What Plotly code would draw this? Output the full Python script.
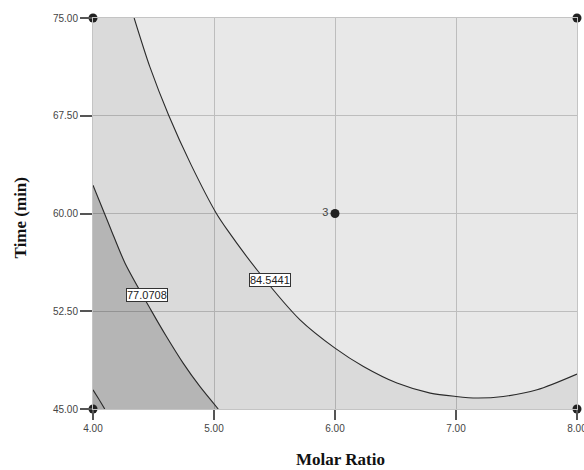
import plotly.graph_objects as go

# ---- data ----
x_range = [4.0, 8.0]
y_range = [45.0, 75.0]
x_tick_vals = [4.0, 5.0, 6.0, 7.0, 8.0]
x_tick_text = ["4.00", "5.00", "6.00", "7.00", "8.00"]
y_tick_vals = [45.0, 52.5, 60.0, 67.5, 75.0]
y_tick_text = ["45.00", "52.50", "60.00", "67.50", "75.00"]

# contour level 84.5441
c84_x = [4.34, 4.47, 4.627, 4.81, 5.02, 5.11, 5.366, 5.711, 6.0, 6.235, 6.512, 6.787, 7.0, 7.17, 7.39, 7.67, 8.0]
c84_y = [75.0, 71.25, 67.5, 63.75, 60.0, 58.74, 55.55, 51.84, 49.67, 48.26, 46.99, 46.22, 45.96, 45.84, 45.96, 46.47, 47.68]
# contour level 77.0708
c77_x = [4.0, 4.095, 4.15, 4.265, 4.483, 4.607, 4.745, 4.883, 5.035]
c77_y = [62.17, 60.0, 58.74, 56.19, 52.53, 50.56, 48.52, 46.73, 45.0]
# lowest contour (unlabelled)
c69_x = [4.0, 4.045, 4.097]
c69_y = [46.47, 45.8, 45.0]

contour_labels = ["84.5441", "77.0708"]
label_x = [5.463, 4.446]
label_y = [54.91, 53.78]

design_x = [4.0, 4.0, 8.0, 8.0, 6.0]
design_y = [45.0, 75.0, 45.0, 75.0, 60.0]
design_text = ["", "", "", "", "3"]

fig = go.Figure()

# filled regions (nested, semi-transparent so gridlines remain visible)
fig.add_trace(go.Scatter(
    x=c84_x + [x_range[1], x_range[0], x_range[0]],
    y=c84_y + [y_range[0], y_range[0], y_range[1]],
    fill="toself", fillcolor="rgba(0,0,0,0.06)", mode="lines",
    line=dict(width=0), hoverinfo="skip", showlegend=False))
fig.add_trace(go.Scatter(
    x=c77_x + [x_range[0]],
    y=c77_y + [y_range[0]],
    fill="toself", fillcolor="rgba(0,0,0,0.17)", mode="lines",
    line=dict(width=0), hoverinfo="skip", showlegend=False))
fig.add_trace(go.Scatter(
    x=c69_x + [x_range[0]],
    y=c69_y + [y_range[0]],
    fill="toself", fillcolor="rgba(0,0,0,0.06)", mode="lines",
    line=dict(width=0), hoverinfo="skip", showlegend=False))

# contour lines
for cx, cy in [(c84_x, c84_y), (c77_x, c77_y), (c69_x, c69_y)]:
    fig.add_trace(go.Scatter(
        x=cx, y=cy, mode="lines",
        line=dict(color="#2a2a2a", width=1.1, shape="spline", smoothing=0.8),
        hoverinfo="skip", showlegend=False))

# contour labels
for t, lx, ly in zip(contour_labels, label_x, label_y):
    fig.add_annotation(
        x=lx, y=ly, xref="x", yref="y", text=t, showarrow=False,
        font=dict(family="Liberation Sans, Arial", size=11, color="#222222"),
        bgcolor="white", bordercolor="#333333", borderwidth=1, borderpad=0)

# design points
fig.add_trace(go.Scatter(
    x=design_x, y=design_y, mode="markers+text", text=design_text,
    textposition="middle left",
    textfont=dict(family="Liberation Sans, Arial", size=11, color="#444444"),
    marker=dict(color="#222222", size=9, symbol="circle"),
    cliponaxis=False, hoverinfo="skip", showlegend=False))

axis_common = dict(
    showgrid=True, gridcolor="#bdbdbd", gridwidth=1,
    showline=True, linecolor="#c4c4c4", linewidth=1, mirror=True,
    ticks="outside", tickcolor="#555555", tickwidth=1.5,
    tickfont=dict(family="Liberation Sans, Arial", size=10, color="#444444"),
    zeroline=False, ticklabeloverflow="allow", automargin=False,
)

fig.update_xaxes(range=x_range, tickvals=x_tick_vals, ticktext=x_tick_text,
                 ticklen=10, **axis_common)
fig.update_yaxes(range=y_range, tickvals=y_tick_vals, ticktext=y_tick_text,
                 ticklen=12, **axis_common)

# axis titles
fig.add_annotation(x=0.512, y=-0.1296, xref="paper", yref="paper",
                   text="<b>Molar Ratio</b>", showarrow=False,
                   xanchor="center", yanchor="middle",
                   font=dict(family="Liberation Serif, Times New Roman", size=17, color="#111111"))
fig.add_annotation(x=-0.1496, y=0.489, xref="paper", yref="paper",
                   text="<b>Time (min)</b>", showarrow=False, textangle=-90,
                   xanchor="center", yanchor="middle",
                   font=dict(family="Liberation Serif, Times New Roman", size=17, color="#111111"))

fig.update_layout(
    width=584, height=470,
    margin=dict(l=93, r=7, t=18, b=61, autoexpand=False),
    paper_bgcolor="white", plot_bgcolor="#e8e8e8",
    showlegend=False,
)

fig.write_html("out.html",
               config={"displayModeBar": False},
               post_script="document.body.style.margin='0';document.body.style.overflow='hidden';")
